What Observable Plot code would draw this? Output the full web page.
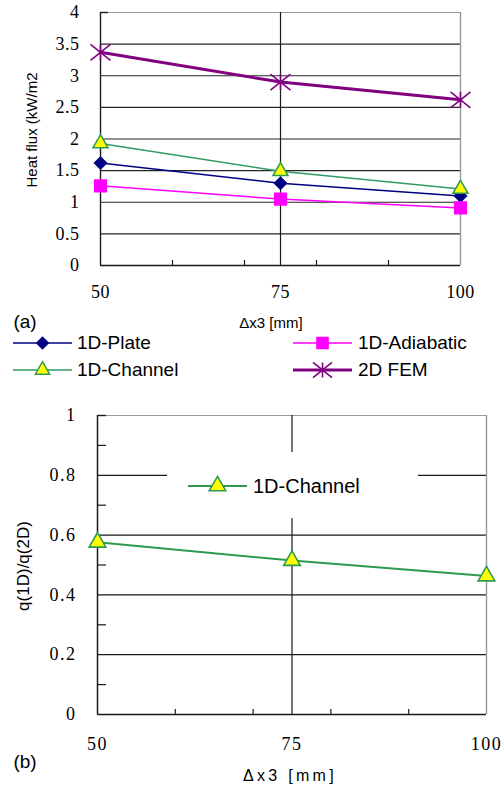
<!DOCTYPE html>
<html>
<head>
<meta charset="utf-8">
<script src="https://cdn.jsdelivr.net/npm/d3@7"></script>
<script src="https://cdn.jsdelivr.net/npm/@observablehq/plot@0.6"></script>
<style>
  html, body { margin: 0; padding: 0; background: white; }
  #wrap { position: relative; width: 503px; height: 786px; overflow: hidden; background: white; font-family: "Liberation Sans", Arial, sans-serif; color: black; }
  .abs { position: absolute; white-space: nowrap; }
  .rot { transform: translate(-50%, -50%) rotate(-90deg); }
  .ctr { transform: translate(-50%, -50%); }
  .leg { position: absolute; height: 22px; display: flex; align-items: center; white-space: nowrap; }
  .leg svg { display: block; }
</style>
</head>
<body>
<div id="wrap"></div>
<script>
// ---------- data ----------
const xValues = [50, 75, 100];
const plate = [1.62, 1.30, 1.10];
const adiabatic = [1.26, 1.05, 0.91];
const channel = [1.93, 1.49, 1.21];
const fem = [3.37, 2.90, 2.62];
const ratioChannel = [0.576, 0.515, 0.463];
const seriesNames = ["1D-Plate", "1D-Adiabatic", "1D-Channel", "2D FEM"];
const xTicks = [50, 75, 100];
const xMinorTicks = [60, 70, 80, 90];
const yTicksA = [0, 0.5, 1, 1.5, 2, 2.5, 3, 3.5, 4];
const yTicksB = [0, 0.2, 0.4, 0.6, 0.8, 1];
const yMinorTicksB = [0.1, 0.3, 0.5, 0.7, 0.9];

// ---------- styles ----------
const SERIF = "Liberation Serif";
const star = {
  draw(context, size) {
    const r = Math.sqrt(size / Math.PI);
    const h = r * 0.8;
    context.moveTo(-r, -h); context.lineTo(r, h);
    context.moveTo(-r, h); context.lineTo(r, -h);
    context.moveTo(0, -h); context.lineTo(0, h);
  }
};
const styles = {
  "1D-Plate": {stroke: "#000080", strokeWidth: 1.5, symbol: "diamond2", fill: "#000080", mstroke: "#000080", r: 5.4},
  "1D-Adiabatic": {stroke: "#ff00ff", strokeWidth: 1.5, symbol: "square", fill: "#ff00ff", mstroke: "#ff00ff", r: 6.6},
  "1D-Channel": {stroke: "#339966", strokeWidth: 1.5, symbol: "triangle", fill: "#ffff00", mstroke: "#2e9a50", r: 5.6},
  "2D FEM": {stroke: "#800080", strokeWidth: 3, symbol: star, fill: "none", mstroke: "#800080", r: 10}
};
const seriesValues = {"1D-Plate": plate, "1D-Adiabatic": adiabatic, "1D-Channel": channel, "2D FEM": fem};

const tableA = seriesNames.flatMap(name => xValues.map((x, i) => ({series: name, x, y: seriesValues[name][i]})));
const tableB = xValues.map((x, i) => ({x, y: ratioChannel[i]}));

const wrap = document.getElementById("wrap");

// ---------- panel (a) ----------
const A = {width: 503, height: 300, ml: 100, mr: 43, mt: 12, mb: 35};
const aPlotW = A.width - A.ml - A.mr, aPlotH = A.height - A.mt - A.mb;
const aTickX = 8 * 50 / aPlotW;   // tick length in x units
const aTickY = 5 * 4 / aPlotH;    // tick length in y units

const seriesMarks = seriesNames.flatMap(name => {
  const s = styles[name];
  const d = tableA.filter(r => r.series === name);
  return [
    Plot.line(d, {x: "x", y: "y", stroke: s.stroke, strokeWidth: s.strokeWidth}),
    Plot.dot(d, {x: "x", y: "y", symbol: s.symbol, r: s.r, fill: s.fill, stroke: s.mstroke, strokeWidth: name === "2D FEM" ? 1.6 : 1.5})
  ];
});

const plotA = Plot.plot({
  width: A.width, height: A.height,
  marginLeft: A.ml, marginRight: A.mr, marginTop: A.mt, marginBottom: A.mb,
  x: {domain: [50, 100]},
  y: {domain: [0, 4]},
  style: {fontFamily: SERIF, fontSize: "18px", color: "black", background: "white", overflow: "visible", letterSpacing: "0.5px"},
  marks: [
    Plot.ruleY(yTicksA.filter(v => v > 0 && v < 4), {stroke: "#262626", strokeWidth: 1.1}),
    Plot.ruleY([4], {stroke: "#9a9a9a", strokeWidth: 1.2}),
    Plot.ruleX([100], {stroke: "#9a9a9a", strokeWidth: 1.4}),
    Plot.ruleX([75], {stroke: "#1a1a1a", strokeWidth: 1.2}),
    Plot.ruleX([50], {stroke: "#1a1a1a", strokeWidth: 1.4}),
    Plot.ruleY([0], {stroke: "#1a1a1a", strokeWidth: 1.4}),
    Plot.ruleY([4], {x1: 50, x2: 50 + aTickX, stroke: "#1a1a1a", strokeWidth: 1.4}),
    Plot.ruleX(xMinorTicks, {y1: 0, y2: aTickY, stroke: "#1a1a1a", strokeWidth: 1.2}),
    Plot.axisY({ticks: yTicksA, tickSize: 0, tickPadding: 21, tickFormat: d => String(d), label: null, fontFamily: SERIF, fontSize: 18}),
    Plot.axisX({ticks: xTicks, tickSize: 0, tickPadding: 20, tickFormat: d => String(d), label: null, fontFamily: SERIF, fontSize: 18}),
    ...seriesMarks
  ]
});
plotA.style.position = "absolute";
plotA.style.left = "0px";
plotA.style.top = "0px";
wrap.appendChild(plotA);

// ---------- panel (b) ----------
const B = {top: 385, width: 503, height: 401, ml: 97, mr: 17, mt: 30, mb: 72};
const bPlotW = B.width - B.ml - B.mr, bPlotH = B.height - B.mt - B.mb;
const bTickX = 9 * 50 / bPlotW;
const bTickY = 5 * 1 / bPlotH;
const chB = styles["1D-Channel"];
const greenB = "#2e9a50";

const plotB = Plot.plot({
  width: B.width, height: B.height,
  marginLeft: B.ml, marginRight: B.mr, marginTop: B.mt, marginBottom: B.mb,
  x: {domain: [50, 100]},
  y: {domain: [0, 1]},
  style: {fontFamily: SERIF, fontSize: "18px", color: "black", background: "white", overflow: "visible", letterSpacing: "1.5px"},
  marks: [
    Plot.ruleY(yTicksB.filter(v => v > 0 && v < 1), {stroke: "#1a1a1a", strokeWidth: 1.2}),
    Plot.ruleY([1], {stroke: "#9a9a9a", strokeWidth: 1.2}),
    Plot.ruleX([100], {stroke: "#9a9a9a", strokeWidth: 1.4}),
    Plot.ruleX([75], {stroke: "#1a1a1a", strokeWidth: 1.2}),
    Plot.ruleX([50], {stroke: "#1a1a1a", strokeWidth: 1.5}),
    Plot.ruleY([0], {stroke: "#1a1a1a", strokeWidth: 1.5}),
    Plot.ruleY([1], {x1: 50, x2: 50 + bTickX, stroke: "#1a1a1a", strokeWidth: 1.4}),
    Plot.ruleY(yMinorTicksB, {x1: 50, x2: 50 + bTickX, stroke: "#1a1a1a", strokeWidth: 1.2}),
    Plot.ruleX(xMinorTicks, {y1: 0, y2: bTickY, stroke: "#1a1a1a", strokeWidth: 1.2}),
    Plot.axisY({ticks: yTicksB, tickSize: 0, tickPadding: 21, tickFormat: d => String(d), label: null, fontFamily: SERIF, fontSize: 18}),
    Plot.axisX({ticks: xTicks, tickSize: 0, tickPadding: 23, tickFormat: d => String(d), label: null, fontFamily: SERIF, fontSize: 18}),
    Plot.line(tableB, {x: "x", y: "y", stroke: greenB, strokeWidth: 2}),
    Plot.dot(tableB, {x: "x", y: "y", symbol: chB.symbol, r: 6.2, fill: chB.fill, stroke: greenB, strokeWidth: 1.6})
  ]
});
plotB.style.position = "absolute";
plotB.style.left = "0px";
plotB.style.top = B.top + "px";
wrap.appendChild(plotB);

// ---------- text labels ----------
function addText(txt, left, top, cls, css) {
  const d = document.createElement("div");
  d.className = "abs " + cls;
  d.textContent = txt;
  d.style.left = left + "px";
  d.style.top = top + "px";
  Object.assign(d.style, css || {});
  wrap.appendChild(d);
  return d;
}
addText("Heat flux (kW/m2", 31, 130, "rot", {fontSize: "15px"});
addText("Δx3 [mm]", 271, 322, "ctr", {fontSize: "15px"});
addText("(a)", 25, 322, "ctr", {fontSize: "19px"});
addText("q(1D)/q(2D)", 24, 566, "rot", {fontSize: "17px"});
addText("Δx3 [mm]", 290, 776, "ctr", {fontSize: "16px", letterSpacing: "3.3px"});
addText("(b)", 25, 762, "ctr", {fontSize: "19px"});

// ---------- legends ----------
function sampleSvg(name, lineColor, lineWidth, markerStroke, r, w) {
  const s = styles[name];
  const svg = d3.create("svg").attr("width", w).attr("height", 22);
  svg.append("line").attr("x1", 0).attr("x2", w).attr("y1", 11).attr("y2", 11)
    .attr("stroke", lineColor).attr("stroke-width", lineWidth);
  const symType = typeof s.symbol === "string"
    ? {diamond2: d3.symbolDiamond2, square: d3.symbolSquare, triangle: d3.symbolTriangle}[s.symbol]
    : s.symbol;
  svg.append("path").attr("transform", `translate(${w / 2},11)`)
    .attr("d", d3.symbol(symType, Math.PI * r * r)())
    .attr("fill", s.fill).attr("stroke", markerStroke).attr("stroke-width", name === "2D FEM" ? 1.6 : 1.5);
  return svg.node();
}
function addLegend(name, left, cy, gap, fontSize, lineColor, lineWidth, markerStroke, r) {
  const row = document.createElement("div");
  row.className = "leg";
  row.style.left = left + "px";
  row.style.top = (cy - 11) + "px";
  row.appendChild(sampleSvg(name, lineColor, lineWidth, markerStroke, r, 59));
  const t = document.createElement("span");
  t.textContent = name;
  t.style.fontSize = fontSize + "px";
  t.style.marginLeft = gap + "px";
  row.appendChild(t);
  wrap.appendChild(row);
  return row;
}
const legCols = [13, 293];
const legRows = [343, 370];
const legendLayout = {"1D-Plate": [0, 0], "1D-Adiabatic": [1, 0], "1D-Channel": [0, 1], "2D FEM": [1, 1]};
seriesNames.forEach(name => {
  const s = styles[name];
  const [c, rIdx] = legendLayout[name];
  addLegend(name, legCols[c], legRows[rIdx], c === 0 ? 5 : 6, 19, s.stroke, s.strokeWidth, s.mstroke, s.r * 0.95);
});

// in-plot legend for panel (b), with white background box
const box = document.createElement("div");
box.style.position = "absolute";
box.style.left = "167px";
box.style.top = "452px";
box.style.width = "251px";
box.style.height = "66px";
box.style.background = "white";
wrap.appendChild(box);
addLegend("1D-Channel", 188, 486, 6, 20, greenB, 2, greenB, 6.2);
</script>
</body>
</html>
